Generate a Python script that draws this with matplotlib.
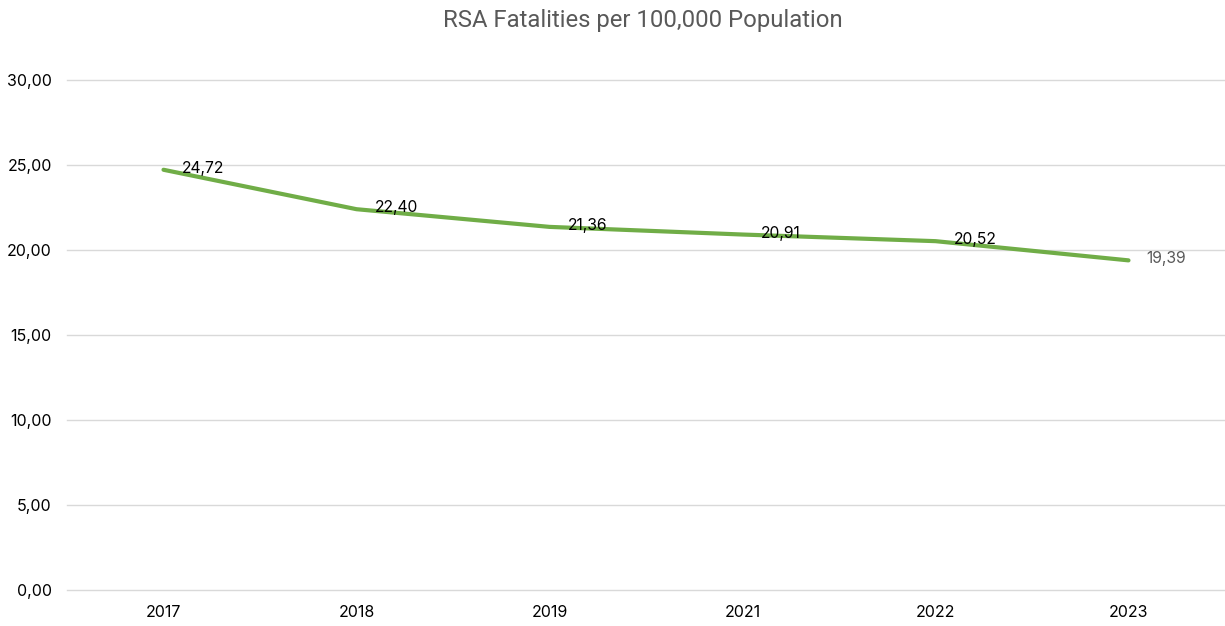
import matplotlib as mpl
mpl.use('agg')
import matplotlib.pyplot as plt

mpl.rcParams['font.family'] = ['Inter', 'DejaVu Sans']

############################################################
# data
############################################################
years  = ['2017', '2018', '2019', '2021', '2022', '2023']
values = [24.72, 22.40, 21.36, 20.91, 20.52, 19.39]
yticks = [0, 5, 10, 15, 20, 25, 30]

############################################################
fig = plt.figure(figsize=(12.25, 6.26), dpi=100)
ax  = fig.add_axes([67/1225, 1 - 590/626, 1158/1225, 510/626])

x = list(range(len(years)))
ax.plot(x, values, color='#70AD47', lw=3.0, solid_capstyle='round', zorder=3)

for i, v in enumerate(values):
    col = '#595959' if i == len(values) - 1 else 'black'
    ax.annotate(f'{v:.2f}'.replace('.', ','), (i, v),
                xytext=(13, 1), textcoords='offset points',
                ha='left', va='center', fontsize=11.3, color=col, zorder=4)

ax.set_xlim(-0.5, len(years) - 0.5)
ax.set_ylim(0, 30)
ax.set_xticks(x)
ax.set_xticklabels(years)
ax.set_yticks(yticks)
ax.set_yticklabels([f'{t:.2f}'.replace('.', ',') for t in yticks])
ax.tick_params(axis='both', length=0, labelsize=11.5, colors='black')
ax.tick_params(axis='y', pad=11)
ax.tick_params(axis='x', pad=11)

ax.grid(axis='y', color='#D9D9D9', lw=1.0)
for gl in ax.get_ygridlines():
    gl.set_clip_on(False)
ax.set_axisbelow(True)
for s in ax.spines.values():
    s.set_visible(False)

fig.text(643/1225, 1 - 21/626, 'RSA Fatalities per 100,000 Population',
         ha='center', va='center', fontsize=17.2, color='#595959',
         family=['Roboto', 'DejaVu Sans'])

plt.savefig('out.png', dpi=100)
